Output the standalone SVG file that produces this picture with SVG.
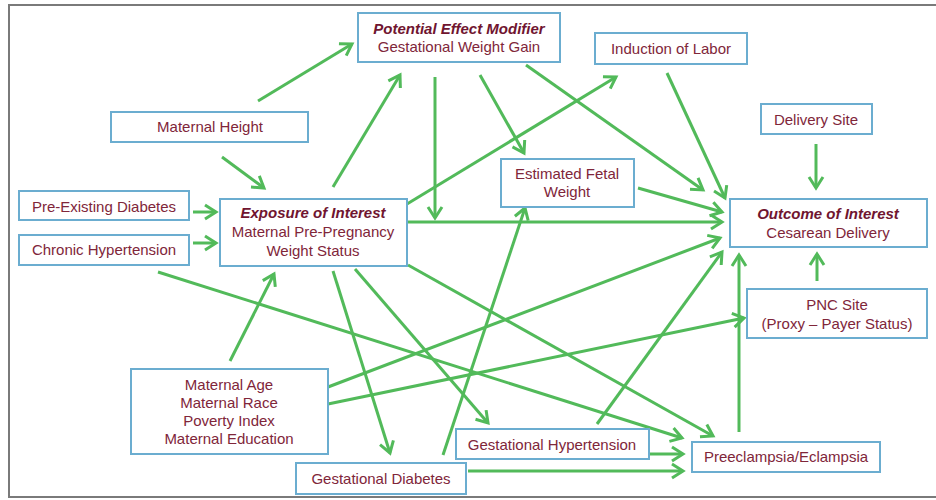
<svg xmlns="http://www.w3.org/2000/svg" width="936" height="500" viewBox="0 0 936 500">
<style>
.box{fill:#ffffff;stroke:#6badd0;stroke-width:2}
.t{font-family:"Liberation Sans",Arial,sans-serif;font-size:15px;fill:#80263a;text-anchor:middle}
.b{font-weight:bold;font-style:italic;fill:#701530}
.c{stroke:#52ba5a;stroke-width:3;fill:none;marker-end:url(#ah)}
</style>
<defs>
<marker id="ah" markerUnits="userSpaceOnUse" markerWidth="20" markerHeight="20" viewBox="0 0 20 20" refX="14" refY="10" orient="auto">
<path d="M3,3 L14,10 L3,17" fill="none" stroke="#52ba5a" stroke-width="3"/>
</marker>
</defs>
<rect width="936" height="500" fill="#ffffff"/>
<g id="frame" fill="none" stroke="#7a7a7a" stroke-width="2">
<polyline points="936,5 9,5 9,497 936,497"/>
</g>
<g id="connectors">
<line class="c" x1="258" y1="101" x2="352" y2="44"/>
<line class="c" x1="222" y1="157" x2="264" y2="188"/>
<line class="c" x1="333" y1="187" x2="400" y2="75"/>
<line class="c" x1="435" y1="77" x2="435" y2="218"/>
<line class="c" x1="193" y1="212" x2="216" y2="212"/>
<line class="c" x1="193" y1="243" x2="216" y2="243"/>
<line class="c" x1="407" y1="204" x2="616" y2="77"/>
<line class="c" x1="407" y1="222" x2="722" y2="222"/>
<line class="c" x1="480" y1="75" x2="524" y2="153"/>
<line class="c" x1="526" y1="65" x2="703" y2="190"/>
<line class="c" x1="667" y1="73" x2="725" y2="198"/>
<line class="c" x1="816" y1="144" x2="816" y2="188"/>
<line class="c" x1="638" y1="188" x2="722" y2="212"/>
<line class="c" x1="328" y1="387" x2="720" y2="238"/>
<line class="c" x1="597" y1="424" x2="722" y2="252"/>
<line class="c" x1="817" y1="281" x2="817" y2="254"/>
<line class="c" x1="739" y1="432" x2="739" y2="255"/>
<line class="c" x1="328" y1="404" x2="744" y2="318"/>
<line class="c" x1="230" y1="361" x2="274" y2="274"/>
<line class="c" x1="158" y1="272" x2="682" y2="438"/>
<line class="c" x1="408" y1="265" x2="713" y2="436"/>
<line class="c" x1="333" y1="271" x2="390" y2="453"/>
<line class="c" x1="355" y1="269" x2="488" y2="423"/>
<line class="c" x1="443" y1="455" x2="525" y2="208"/>
<line class="c" x1="650" y1="454" x2="683" y2="454"/>
<line class="c" x1="468" y1="471" x2="683" y2="471"/>
</g>
<g id="gwg">
<rect class="box" x="358" y="13" width="202" height="49"/>
<text class="t b" x="459" y="34">Potential Effect Modifier</text>
<text class="t" x="459" y="52">Gestational Weight Gain</text>
</g>
<g id="height">
<rect class="box" x="111" y="112" width="197" height="30"/>
<text class="t" x="210" y="132">Maternal Height</text>
</g>
<g id="pdiab">
<rect class="box" x="19" y="191" width="170" height="29"/>
<text class="t" x="104" y="212">Pre-Existing Diabetes</text>
</g>
<g id="chtn">
<rect class="box" x="19" y="235" width="170" height="30"/>
<text class="t" x="104" y="255">Chronic Hypertension</text>
</g>
<g id="exposure">
<rect class="box" x="220" y="199" width="187" height="67"/>
<text class="t b" x="313" y="218">Exposure of Interest</text>
<text class="t" x="313" y="237">Maternal Pre-Pregnancy</text>
<text class="t" x="313" y="256">Weight Status</text>
</g>
<g id="induction">
<rect class="box" x="595" y="33" width="152" height="31"/>
<text class="t" x="671" y="54">Induction of Labor</text>
</g>
<g id="delsite">
<rect class="box" x="761" y="104" width="111" height="30"/>
<text class="t" x="816" y="125">Delivery Site</text>
</g>
<g id="efw">
<rect class="box" x="501" y="159" width="133" height="48"/>
<text class="t" x="567" y="179">Estimated Fetal</text>
<text class="t" x="567" y="197">Weight</text>
</g>
<g id="outcome">
<rect class="box" x="730" y="199" width="197" height="48"/>
<text class="t b" x="828" y="219">Outcome of Interest</text>
<text class="t" x="828" y="238">Cesarean Delivery</text>
</g>
<g id="pnc">
<rect class="box" x="747" y="289" width="180" height="49"/>
<text class="t" x="837" y="310">PNC Site</text>
<text class="t" x="837" y="329">(Proxy – Payer Status)</text>
</g>
<g id="demo">
<rect class="box" x="131" y="369" width="197" height="85"/>
<text class="t" x="229" y="390">Maternal Age</text>
<text class="t" x="229" y="408">Maternal Race</text>
<text class="t" x="229" y="426">Poverty Index</text>
<text class="t" x="229" y="444">Maternal Education</text>
</g>
<g id="ghtn">
<rect class="box" x="456" y="429" width="193" height="30"/>
<text class="t" x="552" y="450">Gestational Hypertension</text>
</g>
<g id="gdiab">
<rect class="box" x="296" y="463" width="170" height="31"/>
<text class="t" x="381" y="484">Gestational Diabetes</text>
</g>
<g id="preec">
<rect class="box" x="692" y="442" width="188" height="30"/>
<text class="t" x="786" y="462">Preeclampsia/Eclampsia</text>
</g>
</svg>
